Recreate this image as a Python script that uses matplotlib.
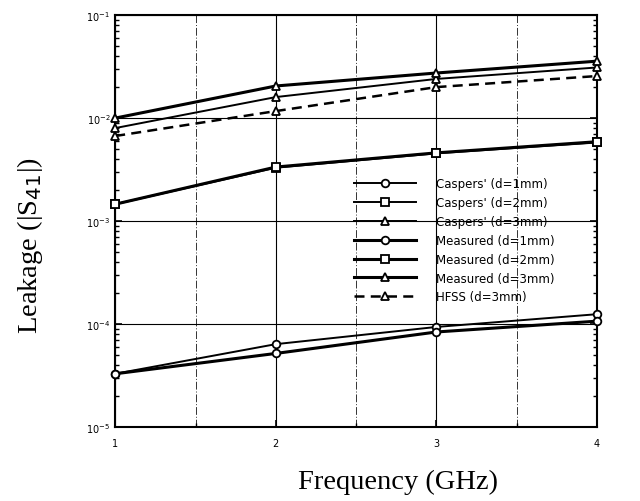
import matplotlib
matplotlib.use("Agg")
import matplotlib.pyplot as plt
from matplotlib.ticker import LogLocator, NullFormatter, FixedLocator

freq = [1, 2, 3, 4]

casper_d1 = [3.3e-5, 6.4e-5, 9.4e-5, 1.25e-4]
casper_d2 = [1.46e-3, 3.3e-3, 4.55e-3, 5.8e-3]
casper_d3 = [8.0e-3, 1.6e-2, 2.4e-2, 3.1e-2]
measured_d1 = [3.3e-5, 5.2e-5, 8.4e-5, 1.07e-4]
measured_d2 = [1.46e-3, 3.35e-3, 4.6e-3, 5.9e-3]
measured_d3 = [1.0e-2, 2.05e-2, 2.74e-2, 3.57e-2]
hfss_d3 = [6.7e-3, 1.17e-2, 2.0e-2, 2.56e-2]

labels = ["Caspers' (d=1mm)", "Caspers' (d=2mm)", "Caspers' (d=3mm)",
          "Measured (d=1mm)", "Measured (d=2mm)", "Measured (d=3mm)",
          "HFSS (d=3mm)"]

fig = plt.figure(figsize=(6.4, 5.02), dpi=100)
ax = fig.add_axes([0.18, 0.147, 0.753, 0.821])

series = [
    (casper_d1, "o", "-", 1.4),
    (casper_d2, "s", "-", 1.4),
    (casper_d3, "^", "-", 1.4),
    (measured_d1, "o", "-", 2.2),
    (measured_d2, "s", "-", 2.2),
    (measured_d3, "^", "-", 2.2),
    (hfss_d3, "^", (0, (4, 2.5)), 1.8),
]
for (vals, mk, ls, lw), lab in zip(series, labels):
    ax.plot(freq, vals, color="black", marker=mk, linestyle=ls, linewidth=lw,
            markersize=5.5, markerfacecolor="white", markeredgecolor="black",
            markeredgewidth=1.3, label=lab, clip_on=False, zorder=3)

ax.set_yscale("log")
ax.set_xlim(1, 4)
ax.set_ylim(1e-5, 1e-1)

ax.set_yticks([1e-5, 1e-4, 1e-3, 1e-2, 1e-1])
ax.set_yticklabels(["10$^{-5}$", "10$^{-4}$", "10$^{-3}$", "10$^{-2}$", "10$^{-1}$"],
                   fontsize=7)
ax.yaxis.set_minor_locator(LogLocator(base=10, subs=range(2, 10)))
ax.yaxis.set_minor_formatter(NullFormatter())
ax.set_xticks(freq)
ax.set_xticklabels(["1", "2", "3", "4"], fontsize=7)
ax.xaxis.set_minor_locator(FixedLocator([1.5, 2.5, 3.5]))

ax.tick_params(axis="both", which="major", direction="in", length=5, width=1.2)
ax.tick_params(axis="both", which="minor", direction="in", length=3, width=1.0)
ax.tick_params(axis="y", which="both", right=True)
ax.tick_params(axis="x", pad=8)

ax.grid(True, which="major", axis="both", color="black", linewidth=0.8)
ax.grid(True, which="minor", axis="x", color="#333333", linewidth=0.7,
        linestyle=(0, (8, 2, 1, 2)))
for s in ax.spines.values():
    s.set_linewidth(1.5)

ax.set_ylabel("Leakage (|S$_{41}$|)", fontsize=20.5, family="Liberation Serif")
ax.yaxis.set_label_coords(-0.145, 0.444)
ax.set_xlabel("Frequency (GHz)", fontsize=20.5, family="Liberation Serif")
ax.xaxis.set_label_coords(0.587, -0.1)

ax.legend(loc="upper left", bbox_to_anchor=(0.496, 0.607), frameon=False,
          fontsize=8.5, handlelength=5.2, numpoints=1, labelspacing=0.5,
          handletextpad=1.7, borderpad=0, borderaxespad=0)

fig.savefig("out.png", dpi=100)
